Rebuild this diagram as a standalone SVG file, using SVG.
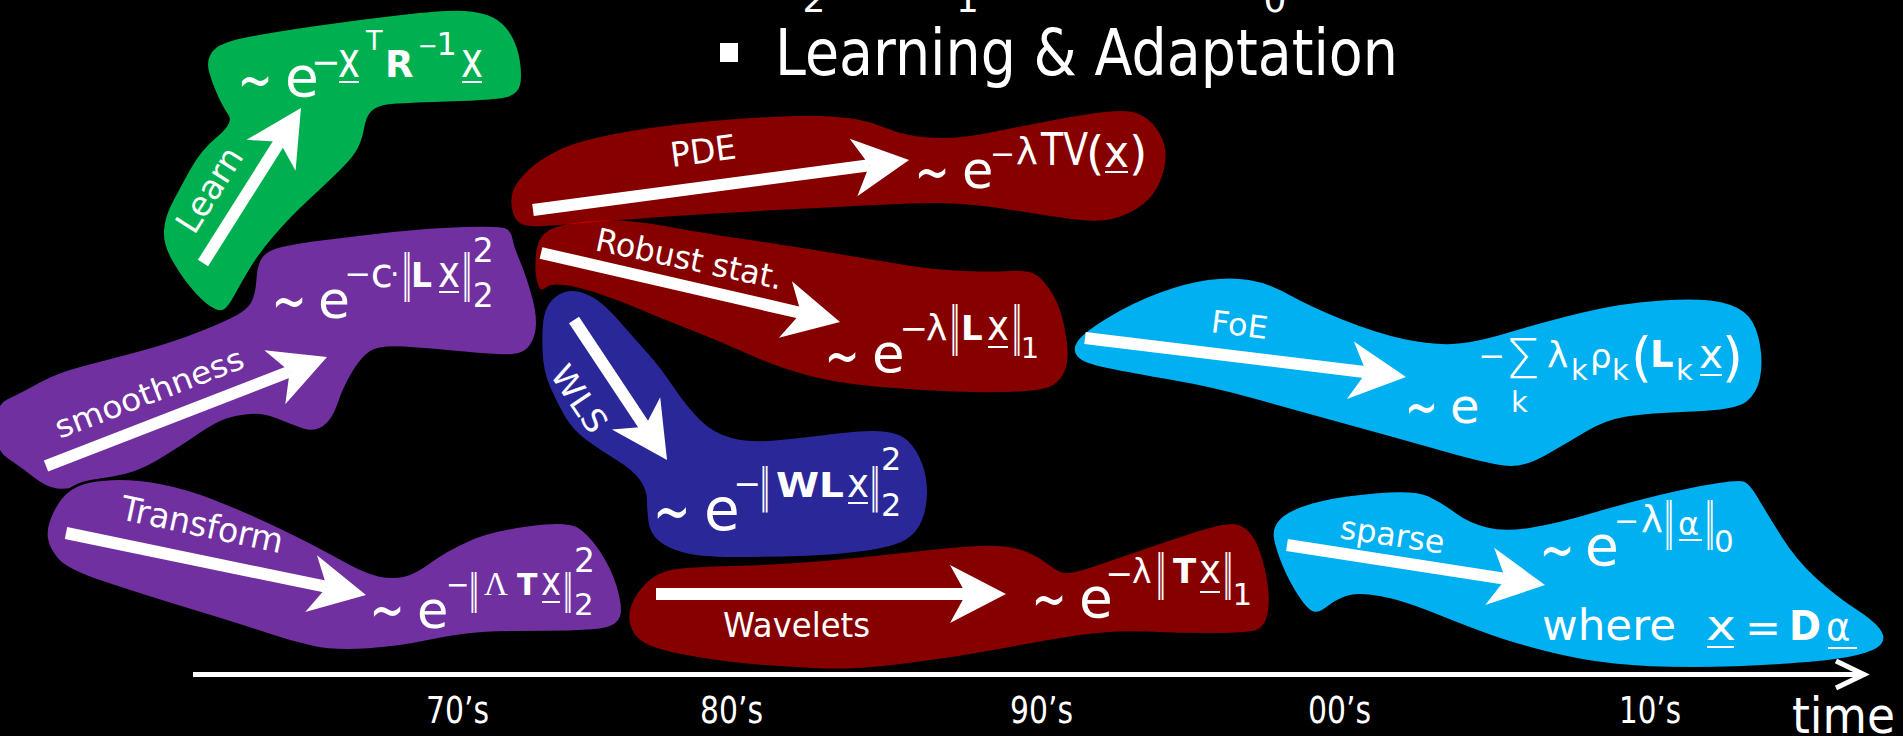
<svg xmlns="http://www.w3.org/2000/svg" width="1903" height="736" viewBox="0 0 1903 736">
<defs>
<style>
text{fill:#fff;font-family:'DejaVu Sans','Liberation Sans',sans-serif}
.b{font-weight:bold}
.serif{font-family:'Liberation Serif','DejaVu Serif',serif}
.ul{stroke:#fff;stroke-width:2}
.green{fill:#00B050}
.purple{fill:#7030A0}
.red{fill:#FF0000;fill-opacity:.53}
.navy{fill:#2A2899}
.sky{fill:#00B0F0}
.shaft{fill:none;stroke:#fff;stroke-width:12;marker-end:url(#stealth)}
</style>
<!-- stealth arrowhead: origin sits at the notch, tip 40px ahead -->
<marker id="stealth" markerUnits="userSpaceOnUse" orient="auto" overflow="visible" markerWidth="1" markerHeight="1">
<path d="M40,0 L-16,-29 L0,0 L-16,29 Z" fill="#fff"/>
</marker>
</defs>

<rect width="1903" height="736" fill="#000"/>

<!-- heading, partly cut off at the top -->
<g id="title">
<text x="802.5" y="12" font-size="36">2</text>
<text x="956" y="12" font-size="36">1</text>
<text x="1263.5" y="12" font-size="36">0</text>
<rect x="720" y="43" width="18" height="19" fill="#fff"/>
<text x="775" y="75" font-size="64" textLength="623" lengthAdjust="spacingAndGlyphs">Learning &amp; Adaptation</text>
</g>

<!-- learned covariance prior -->
<g id="node-learn">
<path class="green" d="M209,71.5 Q206,60 212.5,51.5 Q219,43 243.5,38 Q268,33 312.5,26.5 Q357,20 401.5,15 Q446,10 464,11 Q482,12 493,17.5 Q504,23 511,35 Q518,47 520,62 Q522,77 520,85 Q518,93 509,96.5 Q500,100 446.5,101.5 Q393,103 384,105 Q375,107 370.5,112 Q366,117 364,128.5 Q362,140 357.5,148.5 Q353,157 341.5,168.5 Q330,180 310,198.5 Q290,217 274.5,235 Q259,253 250,268 Q241,283 234.5,295 Q228,307 223.5,309.5 Q219,312 210,306 Q201,300 190,286.5 Q179,273 171,258 Q163,243 164,230 Q165,217 172,203.5 Q179,190 190,170 Q201,150 217.5,136.5 Q234,123 228.5,115 Q223,107 217.5,95 Q212,83 209,71.5 Z"/>
<text transform="translate(237.6,80) scale(1,1.5)" y="14" font-size="42">~</text>
<text x="285" y="96" font-size="55">e</text>
<text x="311" y="74" font-size="35">−</text>
<text x="338" y="77" font-size="49" textLength="22" lengthAdjust="spacingAndGlyphs">x</text>
<line class="ul" x1="339" y1="82" x2="359" y2="82"/>
<text x="366" y="50" font-size="27">T</text>
<text class="b" x="385" y="77" font-size="37">R</text>
<text x="417.5" y="54" font-size="24">−</text>
<text x="436.5" y="55" font-size="32">1</text>
<text x="461" y="77" font-size="49" textLength="22" lengthAdjust="spacingAndGlyphs">x</text>
<line class="ul" x1="462" y1="82" x2="482" y2="82"/>
<text transform="translate(219.4,195.9) rotate(-57.7)" text-anchor="middle" font-size="34" textLength="94" lengthAdjust="spacingAndGlyphs">Learn</text>
</g>

<!-- smoothness prior -->
<g id="node-smoothness">
<path class="purple" d="M256.5,279 Q257,268 260.5,260.5 Q264,253 275,249 Q286,245 321.5,240.5 Q357,236 393,232 Q429,228 464.5,227 Q500,226 505.5,228.5 Q511,231 512.5,239 Q514,247 519.5,260 Q525,273 530.5,291.5 Q536,310 536,322.5 Q536,335 530.5,344 Q525,353 512.5,354 Q500,355 464.5,351.5 Q429,348 404,346.5 Q379,345 370,351 Q361,357 352,372 Q343,387 337.5,403.5 Q332,420 323,426 Q314,432 303.5,428.5 Q293,425 278.5,419 Q264,413 250,414 Q236,415 225,419 Q214,423 196.5,435 Q179,447 157.5,460 Q136,473 112.5,476.5 Q89,480 78.5,485 Q68,490 57,488.5 Q46,487 33.5,477 Q21,467 8,458.5 Q-5,450 -5,427.5 Q-5,405 8,399 Q21,393 39,383 Q57,373 82,366.5 Q107,360 139,351.5 Q171,343 200,331.5 Q229,320 239.5,313.5 Q250,307 253,298.5 Q256,290 256.5,279 Z"/>
<text transform="translate(271.6,301) scale(1,1.5)" y="14" font-size="42">~</text>
<text x="318" y="318" font-size="52">e</text>
<text x="344.6" y="285" font-size="32">−</text>
<text x="370.8" y="287" font-size="40">c</text>
<text x="390" y="285" font-size="30">·</text>
<text x="402" y="290" font-size="50" textLength="10" lengthAdjust="spacingAndGlyphs">‖</text>
<text class="b" x="411" y="287" font-size="33">L</text>
<text x="438" y="287" font-size="44" textLength="22" lengthAdjust="spacingAndGlyphs">x</text>
<line class="ul" x1="439" y1="292" x2="459" y2="292"/>
<text x="462" y="290" font-size="50" textLength="10" lengthAdjust="spacingAndGlyphs">‖</text>
<text x="472.7" y="262" font-size="33">2</text>
<text x="472.7" y="307" font-size="33">2</text>
<text transform="translate(153,403) rotate(-21)" text-anchor="middle" font-size="31" textLength="200" lengthAdjust="spacingAndGlyphs">smoothness</text>
</g>

<!-- transform-domain prior -->
<g id="node-transform">
<path class="purple" stroke="#000" stroke-width="2.5" d="M60.5,498.5 Q67,490 78,485 Q89,480 111.5,479 Q134,478 161,483 Q188,488 219,500.5 Q250,513 281.5,528 Q313,543 339.5,558 Q366,573 379.5,575.5 Q393,578 404,575.5 Q415,573 430.5,561.5 Q446,550 468.5,540 Q491,530 529,525 Q567,520 578,526.5 Q589,533 600.5,550 Q612,567 617.5,585 Q623,603 622,613 Q621,623 609.5,627.5 Q598,632 544.5,632 Q491,632 468.5,634.5 Q446,637 424,642 Q402,647 368.5,649.5 Q335,652 312.5,647 Q290,642 268,634.5 Q246,627 190,610 Q134,593 100.5,581.5 Q67,570 58,560 Q49,550 47,540 Q45,530 49.5,518.5 Q54,507 60.5,498.5 Z"/>
<text transform="translate(369.6,610) scale(1,1.5)" y="14" font-size="42">~</text>
<text x="417" y="628" font-size="51">e</text>
<text x="446" y="594" font-size="28">−</text>
<text x="469" y="602.6" font-size="40" textLength="10" lengthAdjust="spacingAndGlyphs">‖</text>
<text class="serif" x="484" y="595" font-size="33">Λ</text>
<text class="b" x="517" y="595" font-size="30">T</text>
<text x="541" y="595" font-size="40" textLength="20" lengthAdjust="spacingAndGlyphs">x</text>
<line class="ul" x1="542" y1="602" x2="560" y2="602"/>
<text x="563" y="602.6" font-size="40" textLength="10" lengthAdjust="spacingAndGlyphs">‖</text>
<text x="574" y="572" font-size="33">2</text>
<text x="574" y="615" font-size="31">2</text>
<text transform="translate(119,519) rotate(12)" font-size="34" textLength="165" lengthAdjust="spacingAndGlyphs">Transform</text>
</g>

<!-- PDE / total variation -->
<g id="node-pde">
<path class="red" d="M512,208.5 Q510,197 514,188.5 Q518,180 528.5,170 Q539,160 559,150 Q579,140 628.5,131.5 Q678,123 737,119 Q796,115 820,116 Q844,117 857.5,119.5 Q871,122 883,127 Q895,132 909,135 Q923,138 943,138 Q963,138 988,133 Q1013,128 1046.5,121.5 Q1080,115 1100,112.5 Q1120,110 1130,111.5 Q1140,113 1148.5,120 Q1157,127 1162,138.5 Q1167,150 1165,163.5 Q1163,177 1156.5,188.5 Q1150,200 1138.5,207.5 Q1127,215 1113.5,218.5 Q1100,222 1081.5,220 Q1063,218 1038,214 Q1013,210 988,206.5 Q963,203 938,203 Q913,203 874.5,205 Q836,207 776.5,210 Q717,213 667.5,216.5 Q618,220 588.5,222.5 Q559,225 543,226 Q527,227 520.5,223.5 Q514,220 512,208.5 Z"/>
<text transform="translate(914.6,171.5) scale(1,1.5)" y="14" font-size="42">~</text>
<text x="962" y="188" font-size="51">e</text>
<text x="990" y="164" font-size="30">−</text>
<text x="1016" y="165" font-size="37">λ</text>
<text x="1041" y="165" font-size="44" textLength="47" lengthAdjust="spacingAndGlyphs">TV</text>
<text x="1086" y="169" font-size="47">(</text>
<text x="1104" y="167" font-size="44" textLength="25" lengthAdjust="spacingAndGlyphs">x</text>
<line class="ul" x1="1105" y1="172" x2="1128" y2="172"/>
<text x="1129" y="169" font-size="47">)</text>
<text transform="translate(672,167) rotate(-7.5)" font-size="34" textLength="66" lengthAdjust="spacingAndGlyphs">PDE</text>
</g>

<!-- robust statistics -->
<g id="node-robust">
<path class="red" d="M535.5,270 Q535,260 536.5,250 Q538,240 544.5,233.5 Q551,227 571,223.5 Q591,220 614.5,220.5 Q638,221 667.5,226.5 Q697,232 746.5,239.5 Q796,247 835.5,253.5 Q875,260 905,265 Q935,270 964.5,271 Q994,272 1010,271 Q1026,270 1033.5,273.5 Q1041,277 1049,288.5 Q1057,300 1061,313.5 Q1065,327 1067,343.5 Q1069,360 1065,370 Q1061,380 1053,385 Q1045,390 1019.5,391.5 Q994,393 954.5,391.5 Q915,390 875.5,386.5 Q836,383 806.5,375 Q777,367 747,353.5 Q717,340 687.5,328.5 Q658,317 638,308.5 Q618,300 598.5,293.5 Q579,287 565,285 Q551,283 546,287.5 Q541,292 538.5,286 Q536,280 535.5,270 Z"/>
<text transform="translate(824.6,355.5) scale(1,1.5)" y="14" font-size="42">~</text>
<text x="872" y="372" font-size="53">e</text>
<text x="899.4" y="339.5" font-size="34">−</text>
<text x="926" y="340" font-size="36">λ</text>
<text x="950" y="343" font-size="52" textLength="10" lengthAdjust="spacingAndGlyphs">‖</text>
<text class="b" x="961" y="340" font-size="34">L</text>
<text x="987" y="340" font-size="42" textLength="22" lengthAdjust="spacingAndGlyphs">x</text>
<line class="ul" x1="988" y1="347" x2="1008" y2="347"/>
<text x="1012" y="343" font-size="52" textLength="10" lengthAdjust="spacingAndGlyphs">‖</text>
<text x="1020.8" y="358" font-size="29">1</text>
<text transform="translate(594,250) rotate(12)" font-size="32" textLength="190" lengthAdjust="spacingAndGlyphs">Robust stat.</text>
</g>

<!-- weighted least squares -->
<g id="node-wls">
<path class="navy" d="M542.5,350 Q542,330 543.5,320 Q545,310 549,304 Q553,298 560,294 Q567,290 577,291.5 Q587,293 597,300 Q607,307 620,322 Q633,337 646.5,352 Q660,367 673.5,387 Q687,407 700,420 Q713,433 731.5,438 Q750,443 775,440.5 Q800,438 833.5,434 Q867,430 883.5,431.5 Q900,433 908.5,441.5 Q917,450 922,463.5 Q927,477 927,492 Q927,507 922,520 Q917,533 905,540 Q893,547 863,551 Q833,555 800,556 Q767,557 733.5,557 Q700,557 683.5,552.5 Q667,548 658.5,540.5 Q650,533 648.5,521.5 Q647,510 647,500 Q647,490 640,480 Q633,470 616.5,460 Q600,450 586.5,440 Q573,430 565,416.5 Q557,403 550,386.5 Q543,370 542.5,350 Z"/>
<text transform="translate(653,511.5) scale(1,1.5)" y="14.8" font-size="45">~</text>
<text x="704" y="530" font-size="58">e</text>
<text x="733.5" y="495" font-size="33">−</text>
<text x="760" y="501" font-size="46" textLength="10" lengthAdjust="spacingAndGlyphs">‖</text>
<text class="b" x="776" y="497" font-size="33" textLength="68" lengthAdjust="spacingAndGlyphs">WL</text>
<text x="847" y="497" font-size="40" textLength="22" lengthAdjust="spacingAndGlyphs">x</text>
<line class="ul" x1="848" y1="503" x2="868" y2="503"/>
<text x="870" y="501" font-size="46" textLength="10" lengthAdjust="spacingAndGlyphs">‖</text>
<text x="881" y="470" font-size="32">2</text>
<text x="881" y="516" font-size="32">2</text>
<text transform="translate(570,405) rotate(56)" text-anchor="middle" font-size="32" textLength="74" lengthAdjust="spacingAndGlyphs">WLS</text>
</g>

<!-- wavelet sparsity -->
<g id="node-wavelets">
<path class="red" d="M631.5,628.5 Q627,617 631.5,605 Q636,593 647,582.5 Q658,572 673.5,569.5 Q689,567 734,566 Q779,565 823.5,561 Q868,557 912.5,552 Q957,547 979.5,546 Q1002,545 1017.5,549 Q1033,553 1044,561.5 Q1055,570 1062,572.5 Q1069,575 1091,567.5 Q1113,560 1146.5,548.5 Q1180,537 1202.5,530 Q1225,523 1234,524 Q1243,525 1249.5,532.5 Q1256,540 1260.5,553.5 Q1265,567 1267.5,583.5 Q1270,600 1267.5,613.5 Q1265,627 1256,630 Q1247,633 1213.5,633 Q1180,633 1146.5,631.5 Q1113,630 1079.5,635 Q1046,640 1001.5,648.5 Q957,657 912.5,662.5 Q868,668 845.5,668.5 Q823,669 778.5,666 Q734,663 700.5,657.5 Q667,652 651.5,646 Q636,640 631.5,628.5 Z"/>
<text transform="translate(1031.6,598.5) scale(1,1.5)" y="14" font-size="42">~</text>
<text x="1079" y="617" font-size="55">e</text>
<text x="1105.5" y="585" font-size="33">−</text>
<text x="1132" y="583" font-size="33">λ</text>
<text x="1156" y="588.7" font-size="48" textLength="10" lengthAdjust="spacingAndGlyphs">‖</text>
<text class="b" x="1173" y="583" font-size="34">T</text>
<text x="1199" y="583" font-size="40" textLength="22" lengthAdjust="spacingAndGlyphs">x</text>
<line class="ul" x1="1200" y1="592" x2="1220" y2="592"/>
<text x="1223" y="588.7" font-size="48" textLength="10" lengthAdjust="spacingAndGlyphs">‖</text>
<text x="1232.6" y="605" font-size="31">1</text>
<text x="723" y="637" font-size="34" textLength="147" lengthAdjust="spacingAndGlyphs">Wavelets</text>
</g>

<!-- fields of experts -->
<g id="node-foe">
<path class="sky" d="M1077.5,356.5 Q1072,350 1077.5,341.5 Q1083,333 1107.5,318 Q1132,303 1159,293 Q1186,283 1208,280 Q1230,277 1249,280 Q1268,283 1289.5,295 Q1311,307 1343.5,320 Q1376,333 1403.5,339 Q1431,345 1452.5,344 Q1474,343 1507,333 Q1540,323 1580.5,313 Q1621,303 1662,300.5 Q1703,298 1722,302.5 Q1741,307 1749,317 Q1757,327 1760,345 Q1763,363 1760,378 Q1757,393 1746.5,401.5 Q1736,410 1692,411.5 Q1648,413 1626.5,416.5 Q1605,420 1586,431.5 Q1567,443 1545,455.5 Q1523,468 1504,465.5 Q1485,463 1444.5,451.5 Q1404,440 1349.5,425 Q1295,410 1254,398.5 Q1213,387 1172.5,380 Q1132,373 1107.5,368 Q1083,363 1077.5,356.5 Z"/>
<text transform="translate(1404.8,408.3) scale(1,1.5)" y="13.2" font-size="40">~</text>
<text x="1450" y="423" font-size="48">e</text>
<text x="1478.6" y="367" font-size="32">−</text>
<text x="1505" y="378" font-size="56" font-weight="300">Σ</text>
<text x="1511" y="412" font-size="29">k</text>
<text x="1547" y="367" font-size="36">λ</text>
<text x="1571" y="380" font-size="29">k</text>
<text x="1590" y="368" font-size="34">ρ</text>
<text x="1612" y="380" font-size="29">k</text>
<text x="1631" y="376" font-size="54">(</text>
<text class="b" x="1650" y="367" font-size="37">L</text>
<text x="1676" y="380" font-size="29">k</text>
<text x="1699" y="368" font-size="40" textLength="24" lengthAdjust="spacingAndGlyphs">x</text>
<line class="ul" x1="1700" y1="375" x2="1722" y2="375"/>
<text x="1722" y="376" font-size="54">)</text>
<text transform="translate(1210,332) rotate(7)" font-size="31" textLength="57" lengthAdjust="spacingAndGlyphs">FoE</text>
</g>

<!-- sparse representation -->
<g id="node-sparse">
<path class="sky" d="M1274,538.5 Q1272,527 1281,518.5 Q1290,510 1312.5,503.5 Q1335,497 1375,493.5 Q1415,490 1428.5,496.5 Q1442,503 1455.5,513 Q1469,523 1487,527.5 Q1505,532 1532,527.5 Q1559,523 1592.5,513 Q1626,503 1659.5,495 Q1693,487 1715.5,483.5 Q1738,480 1743.5,481.5 Q1749,483 1757,496.5 Q1765,510 1780.5,535 Q1796,560 1816.5,578.5 Q1837,597 1855,608.5 Q1873,620 1879.5,628.5 Q1886,637 1881.5,643.5 Q1877,650 1857,655 Q1837,660 1787.5,663.5 Q1738,667 1693,667 Q1648,667 1614.5,663.5 Q1581,660 1547.5,651.5 Q1514,643 1491.5,635 Q1469,627 1435.5,613.5 Q1402,600 1379.5,596 Q1357,592 1346,596 Q1335,600 1327,606.5 Q1319,613 1313.5,611.5 Q1308,610 1299,596.5 Q1290,583 1283,566.5 Q1276,550 1274,538.5 Z"/>
<text transform="translate(1539.6,550) scale(1,1.5)" y="14" font-size="42">~</text>
<text x="1585" y="565" font-size="55">e</text>
<text x="1614" y="531" font-size="30">−</text>
<text x="1641" y="533" font-size="37">λ</text>
<text x="1664" y="538" font-size="50" textLength="10" lengthAdjust="spacingAndGlyphs">‖</text>
<text x="1678" y="535" font-size="32">α</text>
<line class="ul" x1="1679" y1="540" x2="1702" y2="540"/>
<text x="1705" y="538" font-size="50" textLength="10" lengthAdjust="spacingAndGlyphs">‖</text>
<text x="1714" y="552" font-size="31">0</text>
<text x="1542" y="640" font-size="42" textLength="134" lengthAdjust="spacingAndGlyphs">where</text>
<text x="1706" y="640" font-size="42" textLength="30" lengthAdjust="spacingAndGlyphs">x</text>
<line class="ul" x1="1707" y1="647" x2="1734" y2="647"/>
<text x="1745" y="642" font-size="43">=</text>
<text class="b" x="1789" y="640" font-size="41" textLength="32" lengthAdjust="spacingAndGlyphs">D</text>
<text x="1826" y="640" font-size="37">α</text>
<line class="ul" x1="1828" y1="648" x2="1857" y2="648"/>
<text transform="translate(1339,538) rotate(8.5)" font-size="32" textLength="105" lengthAdjust="spacingAndGlyphs">sparse</text>
</g>

<!-- arrows inside the regions: tail to notch, head from marker -->
<g id="connectors">
<line class="shaft" x1="203" y1="263" x2="279.6" y2="141.8"/>
<line class="shaft" x1="46" y1="466" x2="289.7" y2="371.5"/>
<line class="shaft" x1="66" y1="533" x2="326.8" y2="586.9"/>
<line class="shaft" x1="533" y1="210" x2="869.4" y2="165.3"/>
<line class="shaft" x1="541" y1="253" x2="801" y2="313"/>
<line class="shaft" x1="574" y1="320" x2="644.9" y2="426.7"/>
<line class="shaft" x1="656" y1="594" x2="966" y2="594"/>
<line class="shaft" x1="1085" y1="338" x2="1366.3" y2="372.2"/>
<line class="shaft" x1="1287" y1="545" x2="1505.5" y2="578.9"/>
</g>

<!-- time axis with decade ticks -->
<g id="time-axis">
<line x1="193" y1="674.5" x2="1862" y2="674.5" stroke="#fff" stroke-width="5"/>
<polyline points="1836,661 1864,674.5 1836,688" fill="none" stroke="#fff" stroke-width="5"/>
<text x="426" y="723" font-size="38" textLength="63" lengthAdjust="spacingAndGlyphs">70’s</text>
<text x="700" y="723" font-size="38" textLength="63" lengthAdjust="spacingAndGlyphs">80’s</text>
<text x="1010" y="723" font-size="38" textLength="63" lengthAdjust="spacingAndGlyphs">90’s</text>
<text x="1308" y="723" font-size="38" textLength="63" lengthAdjust="spacingAndGlyphs">00’s</text>
<text x="1619" y="723" font-size="38" textLength="62" lengthAdjust="spacingAndGlyphs">10’s</text>
<text x="1792" y="733" font-size="50" textLength="103" lengthAdjust="spacingAndGlyphs">time</text>
</g>
</svg>
